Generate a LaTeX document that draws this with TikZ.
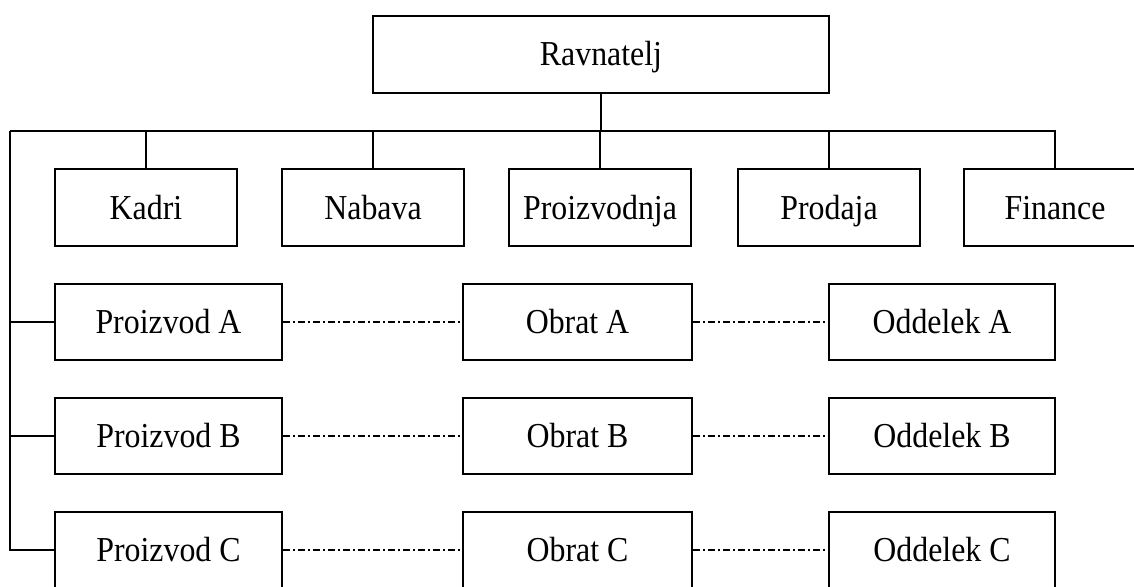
\documentclass[tikz,border=0pt]{standalone}
\usepackage{fontspec}
\setmainfont{Liberation Serif}[FakeStretch=0.91]
\usepackage{tikz}
\usetikzlibrary{positioning}

\begin{document}
\begin{tikzpicture}[
      x=1pt, y=-1pt,
      font=\fontsize{35}{40}\selectfont,
      line width=1.5pt,
      unit/.style={draw, rectangle, minimum width=182pt, minimum height=77pt, inner sep=0pt, text height=23pt, text depth=0pt},
      prod/.style={draw, rectangle, minimum width=227pt, minimum height=76pt, inner sep=0pt, text height=23pt, text depth=0pt},
      link/.style={line width=1.5pt, dash pattern=on 7pt off 3pt on 2pt off 3pt},
    ]
    \useasboundingbox (0,0) rectangle (1134,586);
    \clip (0,0) rectangle (1134,586);

    \node[unit, minimum width=456pt] (ravnatelj) at (601,54.5) {Ravnatelj};

    \node[unit] (kadri) at (146,207.5) {Kadri};
    \node[unit] (nabava) at (373,207.5) {Nabava};
    \node[unit] (proizvodnja) at (600,207.5) {Proizvodnja};
    \node[unit] (prodaja) at (829,207.5) {Prodaja};
    \node[unit] (finance) at (1055,207.5) {Finance};

    \node[prod] (proizvodA) at (168.5,322) {Proizvod A};
    \node[prod, minimum width=229pt] (obratA) at (577.5,322) {Obrat A};
    \node[prod, minimum width=226pt] (oddelekA) at (942,322) {Oddelek A};

    \node[prod] (proizvodB) at (168.5,436) {Proizvod B};
    \node[prod, minimum width=229pt] (obratB) at (577.5,436) {Obrat B};
    \node[prod, minimum width=226pt] (oddelekB) at (942,436) {Oddelek B};

    \node[prod] (proizvodC) at (168.5,550) {Proizvod C};
    \node[prod, minimum width=229pt] (obratC) at (577.5,550) {Obrat C};
    \node[prod, minimum width=226pt] (oddelekC) at (942,550) {Oddelek C};

    % bus under the director
    \coordinate (busL) at (10,131);
    \coordinate (busR) at (finance.north |- busL);
    \draw (ravnatelj.south) -- (ravnatelj.south |- busL);
    \draw (busL) -- (busR) -- (finance.north);
    \draw (kadri.north) -- (kadri.north |- busL);
    \draw (nabava.north) -- (nabava.north |- busL);
    \draw (proizvodnja.north) -- (proizvodnja.north |- busL);
    \draw (prodaja.north) -- (prodaja.north |- busL);

    % product lines
    \draw (busL) |- (proizvodC.west);
    \draw (proizvodA.west) -- (proizvodA.west -| busL);
    \draw (proizvodB.west) -- (proizvodB.west -| busL);

    \draw[link] (proizvodA) -- (obratA);
    \draw[link] (obratA) -- (oddelekA);
    \draw[link] (proizvodB) -- (obratB);
    \draw[link] (obratB) -- (oddelekB);
    \draw[link] (proizvodC) -- (obratC);
    \draw[link] (obratC) -- (oddelekC);
  \end{tikzpicture}
\end{document}
